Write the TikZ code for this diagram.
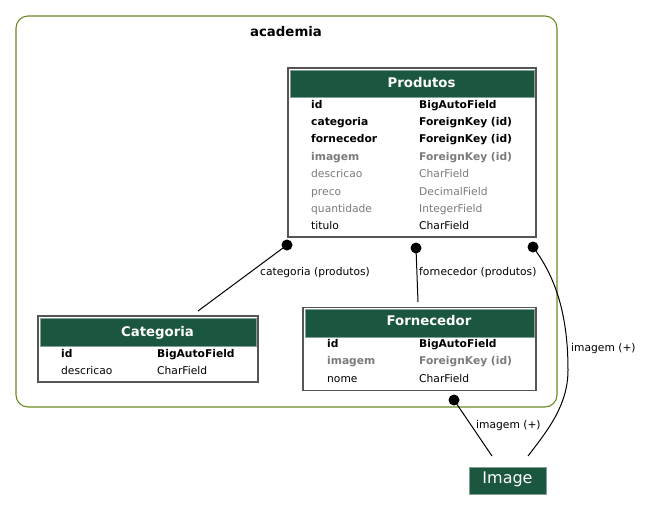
\documentclass[tikz,border=0pt]{standalone}
\usepackage{fontspec}
\setmainfont{DejaVu Sans}
\definecolor{hdgreen}{HTML}{1B563F}
\definecolor{clgreen}{HTML}{698B22}
\definecolor{fgrey}{HTML}{7B7B7B}
\definecolor{frame}{HTML}{555555}
\newcommand{\rowfont}{\fontsize{10.7}{12}\selectfont}

\begin{document}
\begin{tikzpicture}[x=1pt,y=-1pt,
	field/.style={anchor=base west,inner sep=0pt,font=\rowfont},
	keyfield/.style={field,font=\rowfont\bfseries},
	greyfield/.style={field,text=fgrey},
	greykey/.style={keyfield,text=fgrey},
	tablebox/.style={draw=frame,line width=1.2pt,fill=white,inner sep=0pt},
	header/.style={fill=hdgreen,draw=hdgreen!55!white,line width=0.5pt,inner sep=0pt},
	title/.style={anchor=base,inner sep=0pt,text=white,font=\fontsize{13.3}{15}\selectfont\bfseries},
	rel/.style={anchor=base west,inner sep=0pt,font=\rowfont},
	dot/.style={fill=black},
	]
	 			\useasboundingbox (0,0) rectangle (648,509);
	 			% cluster
	 			\draw [clgreen,line width=1.1pt,rounded corners=12pt] (16,16) rectangle (557,407);
	 			\node [anchor=base,inner sep=0pt,font=\fontsize{13.3}{15}\selectfont\bfseries] (academia) at (286,36.5) {academia};
	 			% Produtos
	 			\node [tablebox,minimum width=248pt,minimum height=169pt] (produtos) at (412,152.5) {};
	 			\node [header,minimum width=244pt,minimum height=27.5pt] (produtos-h) at (412,83.8) {};
	 			\node [title] (produtos-t) at (421.5,87) {Produtos};
	 			\foreach \n/\t/\s [count=\i] in {id/BigAutoField/keyfield, categoria/ForeignKey (id)/keyfield, fornecedor/ForeignKey (id)/keyfield, imagem/ForeignKey (id)/greykey, descricao/CharField/greyfield, preco/DecimalField/greyfield, quantidade/IntegerField/greyfield, titulo/CharField/field}
	 			{
	 				\node [\s] (prod-n\i) at (311,90.6+17.4*\i) {\n};
	 				\node [\s] (prod-t\i) at (419,90.6+17.4*\i) {\t};
	 			}
	 			% Categoria
	 			\node [tablebox,minimum width=220pt,minimum height=66pt] (categoria) at (148,349) {};
	 			\node [header,minimum width=216pt,minimum height=28pt] (categoria-h) at (148,332) {};
	 			\node [title] (categoria-t) at (157.5,336) {Categoria};
	 			\foreach \n/\t/\s [count=\i] in {id/BigAutoField/keyfield, descricao/CharField/field}
	 			{
	 				\node [\s] (cat-n\i) at (61,339.9+17.4*\i) {\n};
	 				\node [\s] (cat-t\i) at (157,339.9+17.4*\i) {\t};
	 			}
	 			% Fornecedor
	 			\node [tablebox,minimum width=233pt,minimum height=83pt] (fornecedor) at (419.5,349) {};
	 			\node [header,minimum width=229pt,minimum height=28pt] (fornecedor-h) at (419.5,323) {};
	 			\node [title] (fornecedor-t) at (429,325) {Fornecedor};
	 			\foreach \n/\t/\s [count=\i] in {id/BigAutoField/keyfield, imagem/ForeignKey (id)/greykey, nome/CharField/field}
	 			{
	 				\node [\s] (forn-n\i) at (327,329.9+17.4*\i) {\n};
	 				\node [\s] (forn-t\i) at (419,329.9+17.4*\i) {\t};
	 			}
	 			% Image
	 			\node [header,minimum width=77pt,minimum height=27pt] (image) at (508,480.5) {};
	 			\node [anchor=base,inner sep=0pt,text=white,font=\fontsize{16}{18}\selectfont] (image-t) at (507.5,483) {Image};
	 			% relations
	 			\coordinate (v1) at (287,245);
	 			\coordinate (v2) at (198,311);
	 			\coordinate (v3) at (416,248);
	 			\coordinate (v4) at (418,302);
	 			\coordinate (v5) at (533,247);
	 			\coordinate (v6) at (528,456);
	 			\coordinate (v7) at (454,400);
	 			\coordinate (v8) at (492,456);
	 			\draw [line width=1pt] (v1) -- (v2);
	 			\draw [line width=1pt] (v3) -- (v4);
	 			\draw [line width=1pt] (v5) .. controls (558,280) and (568,320) .. (568,370) .. controls (568,405) and (548,430) .. (v6);
	 			\draw [line width=1pt] (v7) -- (v8);
	 			\fill [dot] (v1) ellipse (5.5 and 5.5);
	 			\fill [dot] (v3) ellipse (5.5 and 5.5);
	 			\fill [dot] (v5) ellipse (5.5 and 5.5);
	 			\fill [dot] (v7) ellipse (5.5 and 5.5);
	 			\node [rel] (l1) at (260,275) {categoria (produtos)};
	 			\node [rel] (l2) at (419,275) {fornecedor (produtos)};
	 			\node [rel] (l3) at (571,351.5) {imagem (+)};
	 			\node [rel] (l4) at (476,428.5) {imagem (+)};
	 			\end{tikzpicture}
\end{document}
